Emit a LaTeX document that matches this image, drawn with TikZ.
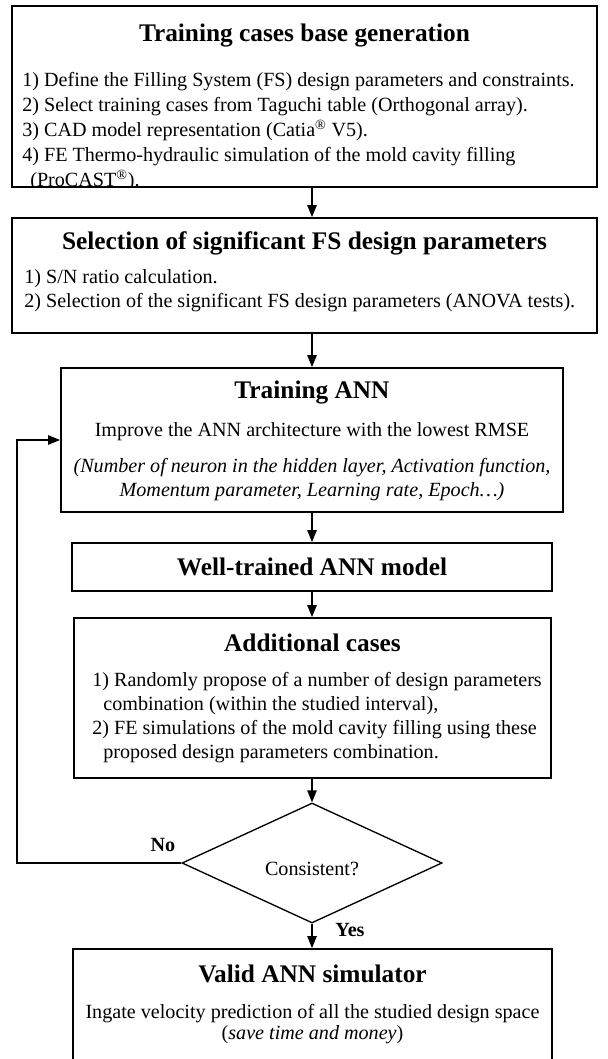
\documentclass[tikz,border=0pt]{standalone}
\usepackage{fontspec}
\setmainfont{Liberation Serif}
\usetikzlibrary{arrows.meta,shapes.geometric}
\begin{document}
\begin{tikzpicture}[x=0.75pt,y=-0.75pt,
  box/.style={draw, line width=1.3pt, rectangle, inner sep=0pt},
  ttl/.style={font=\fontsize{19}{23}\selectfont\bfseries, inner sep=0pt},
  txt/.style={font=\fontsize{15.1}{18}\selectfont, inner sep=0pt, align=left},
  ctxt/.style={font=\fontsize{15.1}{18}\selectfont, inner sep=0pt, align=center},
  conn/.style={line width=1.2pt, -{Triangle[length=9pt,width=7pt]}},
  lbl/.style={font=\fontsize{15.1}{18}\selectfont\bfseries, inner sep=0pt}]
\useasboundingbox (0,0) rectangle (607,1059);
% boxes
\node[box, minimum width=438.75pt, minimum height=135.75pt] (b1) at (304.5,96.5) {};
\node[box, minimum width=438.75pt, minimum height=86.25pt] (b2) at (304.5,275.5) {};
\node[box, minimum width=376.5pt, minimum height=108pt] (b3) at (312,440) {};
\node[box, minimum width=360pt, minimum height=36pt] (b4) at (312,567) {};
\node[box, minimum width=357.75pt, minimum height=120pt] (b5) at (312.5,698) {};
\node[box, minimum width=359.25pt, minimum height=94.5pt] (b6) at (312.5,1012) {};
\node[draw, diamond, line width=1pt, inner sep=0pt, minimum width=195pt, minimum height=90pt] (dec) at (312,863) {};
% box 1
\node[ttl] (t1) at (304.5,36) {Training cases base generation};
\begin{scope}
\clip (12,6) rectangle (597,186.5);
\node[txt, anchor=west, font=\fontsize{15.1}{18.75}\selectfont] (l1) at (22,131.5) {1) Define the Filling System (FS) design parameters and constraints.\\
2) Select training cases from Taguchi table (Orthogonal array).\\
3) CAD model representation (Catia\textsuperscript{\textregistered} V5).\\
4) FE Thermo-hydraulic simulation of the mold cavity filling\\
\hspace*{0.4em}(ProCAST\textsuperscript{\textregistered}).};
\end{scope}
% box 2
\node[ttl] (t2) at (304.5,243) {Selection of significant FS design parameters};
\node[txt, anchor=west] (l2) at (24,291) {1) S/N ratio calculation.\\
2) Selection of the significant FS design parameters (ANOVA tests).};
% box 3
\node[ttl] (t3) at (312,393) {Training ANN};
\node[ctxt] (l3a) at (312,432) {Improve the ANN architecture with the lowest RMSE};
\node[ctxt, font=\fontsize{15.1}{18}\selectfont\itshape] (l3b) at (312,480) {(Number of neuron in the hidden layer, Activation function,\\
Momentum parameter, Learning rate, Epoch…)};
% box 4
\node[ttl] (t4) at (312,567) {Well-trained ANN model};
% box 5
\node[ttl] (t5) at (312.5,643) {Additional cases};
\node[txt, anchor=west] (l5) at (92,718) {1) Randomly propose of a number of design parameters\\
\hspace*{0.55em}combination (within the studied interval),\\
2) FE simulations of the mold cavity filling using these\\
\hspace*{0.55em}proposed design parameters combination.};
% decision
\node[ctxt] (dt) at (312,869) {Consistent?};
\node[lbl] (no) at (163,845) {No};
\node[lbl] (yes) at (350,930) {Yes};
% box 6
\node[ttl] (t6) at (312.5,974) {Valid ANN simulator};
\node[ctxt, font=\fontsize{15.1}{16}\selectfont] (l6) at (312.5,1024) {Ingate velocity prediction of all the studied design space\\
(\textit{save time and money})};
% connectors
\coordinate (fbA) at (17,863);
\coordinate (fbB) at (17,440);
\draw[conn] (b1.south -| b3.north) -- (b2.north -| b3.north);
\draw[conn] (b2.south -| b3.north) -- (b3.north);
\draw[conn] (b3.south) -- (b4.north);
\draw[conn] (b4.south) -- (b5.north -| b4.south);
\draw[conn] (b5.south -| dec.north) -- (dec.north);
\draw[conn] (dec.south) -- (b6.north -| dec.south);
\draw[conn] (dec.west) -- (fbA) -- (fbB) -- (b3.west);
\end{tikzpicture}
\end{document}
